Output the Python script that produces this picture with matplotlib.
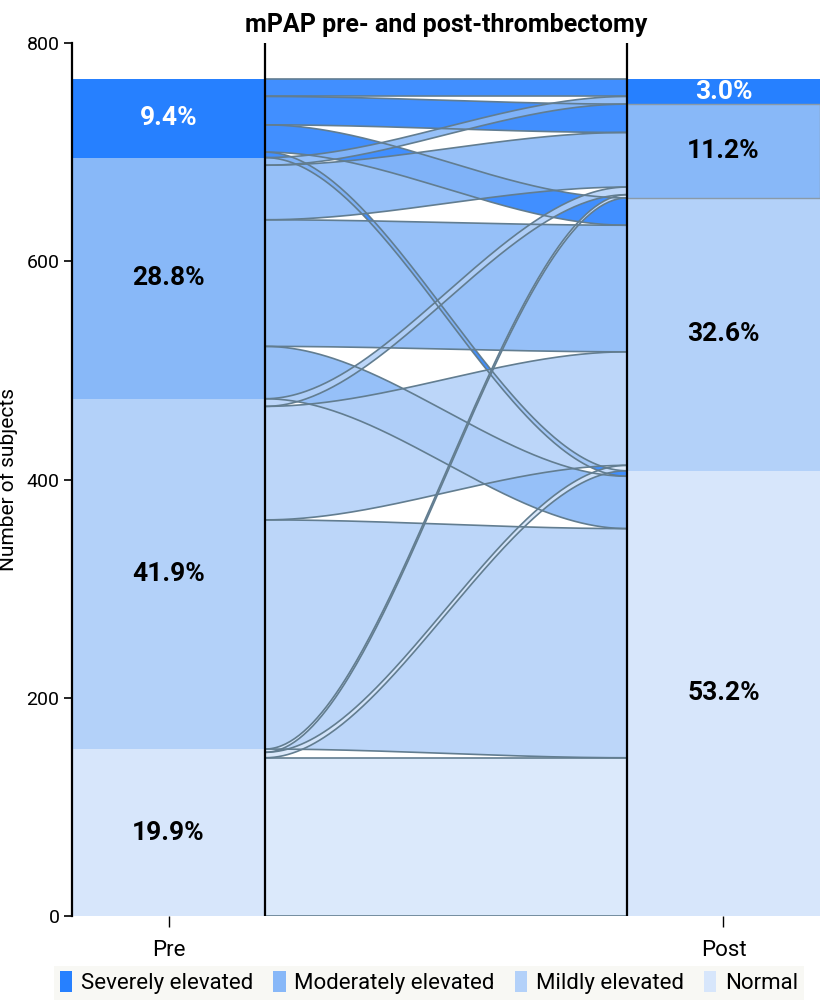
import numpy as np
import matplotlib
matplotlib.use("Agg")
import matplotlib.pyplot as plt
from matplotlib.patches import Rectangle, Polygon

plt.rcParams['font.family'] = ['Roboto', 'DejaVu Sans']

# ---------------- data ----------------
categories = ["Severely elevated", "Moderately elevated", "Mildly elevated", "Normal"]
colors = ["#2680ff", "#88b8f8", "#b3d1f9", "#d7e6fb"]
timepoints = ["Pre", "Post"]
pre_counts = [72, 221, 321, 153]
post_counts = [23, 86, 250, 408]
pre_pct = ["9.4%", "28.8%", "41.9%", "19.9%"]
post_pct = ["3.0%", "11.2%", "32.6%", "53.2%"]

# flows: (pre category index, post category index, count)
flow_src = [0, 0, 0, 0, 1, 1, 1, 1, 2, 2, 2, 3, 3, 3]
flow_dst = [0, 1, 2, 3, 0, 1, 2, 3, 1, 2, 3, 1, 2, 3]
flow_n   = [16, 26, 25, 5, 7, 50, 116, 48, 7, 104, 210, 3, 5, 145]

# order of flows inside each post-category stack (top to bottom)
post_order = {
    0: [(0, 0), (1, 0)],
    1: [(0, 1), (1, 1), (2, 1), (3, 1)],
    2: [(0, 2), (1, 2), (2, 2), (3, 2)],
    3: [(0, 3), (1, 3), (2, 3), (3, 3)],
}

# ---------------- layout ----------------
W, H = 822, 1005
fig = plt.figure(figsize=(W / 100, H / 100), dpi=100)
ax = fig.add_axes([72 / W, 1 - 916 / H, (820 - 72) / W, (916 - 43) / H])

bw = 0.348
xpos = [0.0, 1.0]
ax.set_xlim(xpos[0] - bw / 2, xpos[1] + bw / 2)
ax.set_ylim(0, 800)

total = sum(pre_counts)

def stack_tops(counts):
    tops = []
    cum = total
    for c in counts:
        tops.append(cum)
        cum -= c
    return tops

pre_tops = stack_tops(pre_counts)
post_tops = stack_tops(post_counts)

# bars
for i in range(4):
    ax.add_patch(Rectangle((xpos[0] - bw / 2, pre_tops[i] - pre_counts[i]), bw, pre_counts[i],
                           facecolor=colors[i], edgecolor="none", zorder=2))
    ax.add_patch(Rectangle((xpos[1] - bw / 2, post_tops[i] - post_counts[i]), bw, post_counts[i],
                           facecolor=colors[i], edgecolor="none", zorder=2))
    tc = "white" if i == 0 else "black"
    ax.text(xpos[0], pre_tops[i] - pre_counts[i] / 2, pre_pct[i], ha="center", va="center",
            fontsize=19, fontweight="bold", color=tc, zorder=5)
    ax.text(xpos[1], post_tops[i] - post_counts[i] / 2, post_pct[i], ha="center", va="center",
            fontsize=19, fontweight="bold", color=tc, zorder=5)

ax.add_patch(Rectangle((xpos[1] - bw / 2, post_tops[1] - post_counts[1]), bw, post_counts[1],
                       facecolor="none", edgecolor="#8a9aa8", lw=1.0, zorder=3))

left_pos = {}
cursor = {i: pre_tops[i] for i in range(4)}
for s, d, n in zip(flow_src, flow_dst, flow_n):
    top = cursor[s]
    left_pos[(s, d)] = (top - n, top)
    cursor[s] = top - n

nmap = {(s, d): n for s, d, n in zip(flow_src, flow_dst, flow_n)}
right_pos = {}
for d in range(4):
    top = post_tops[d]
    for key in post_order[d]:
        n = nmap[key]
        right_pos[key] = (top - n, top)
        top -= n

x0 = xpos[0] + bw / 2
x1 = xpos[1] - bw / 2
t = np.linspace(0, 1, 160)
s_curve = 3 * t ** 2 - 2 * t ** 3
xs = x0 + (x1 - x0) * t

for s, d, n in zip(flow_src, flow_dst, flow_n):
    lb, lt = left_pos[(s, d)]
    rb, rt = right_pos[(s, d)]
    ytop = lt + (rt - lt) * s_curve
    ybot = lb + (rb - lb) * s_curve
    pts = np.vstack([np.column_stack([xs, ytop]), np.column_stack([xs[::-1], ybot[::-1]])])
    ax.add_patch(Polygon(pts, closed=True, facecolor=colors[s], alpha=0.88,
                         edgecolor="none", zorder=3))
    ax.plot(xs, ytop, color="#627d90", lw=1.2, zorder=4)
    ax.plot(xs, ybot, color="#627d90", lw=1.2, zorder=4)

ax.axvline(x0, color="black", lw=1.6, zorder=6)
ax.axvline(x1, color="black", lw=1.6, zorder=6)

for sp in ["top", "right", "bottom"]:
    ax.spines[sp].set_visible(False)
ax.spines["left"].set_linewidth(1.6)
ax.set_yticks([0, 200, 400, 600, 800])
ax.tick_params(axis="y", labelsize=14, length=6, width=1.2, pad=3)
ax.set_xticks(xpos)
ax.set_xticklabels(timepoints)
ax.tick_params(axis="x", labelsize=16, length=8, width=1.0, pad=9)
ax.set_ylabel("Number of subjects", fontsize=15, labelpad=6)
ax.set_title("mPAP pre- and post-thrombectomy", fontsize=18, fontweight="bold", pad=8)

handles = [Rectangle((0, 0), 1, 1, facecolor=c, edgecolor="none") for c in colors]
leg = fig.legend(handles, categories, loc="lower center", bbox_to_anchor=(0.522, -0.006), ncol=4,
                 fontsize=16, frameon=True, handlelength=0.55, handleheight=1.1,
                 handletextpad=0.4, columnspacing=0.9, borderpad=0.25)
leg.get_frame().set_facecolor("#f7f7f2")
leg.get_frame().set_edgecolor("none")
leg.get_frame().set_boxstyle("square", pad=0)

fig.savefig("out.png", dpi=100)
